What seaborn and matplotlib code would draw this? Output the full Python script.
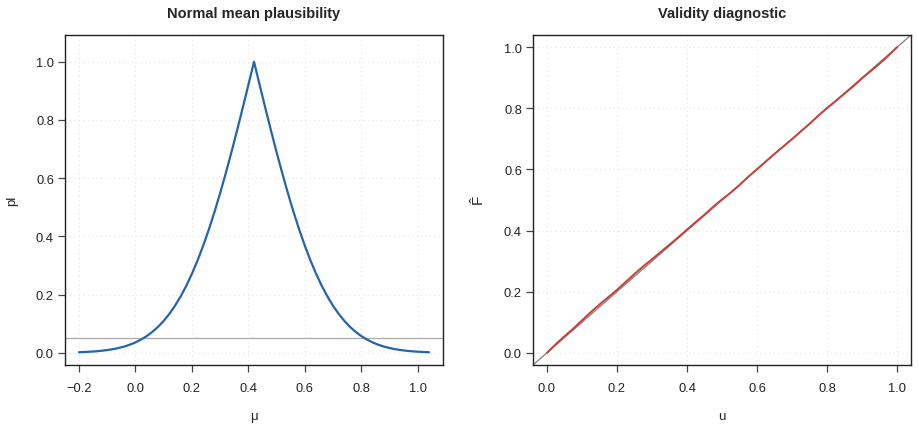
import matplotlib
matplotlib.use("Agg")
import matplotlib.pyplot as plt
import seaborn as sns
import pandas as pd

# Left panel: plausibility contour for the normal mean
mu_vals = [-0.20, -0.18, -0.16, -0.14, -0.12, -0.10, -0.08, -0.06, -0.04, -0.02,
           0.00, 0.02, 0.04, 0.06, 0.08, 0.10, 0.12, 0.14, 0.16, 0.18,
           0.20, 0.22, 0.24, 0.26, 0.28, 0.30, 0.32, 0.34, 0.36, 0.38,
           0.40, 0.42, 0.44, 0.46, 0.48, 0.50, 0.52, 0.54, 0.56, 0.58,
           0.60, 0.62, 0.64, 0.66, 0.68, 0.70, 0.72, 0.74, 0.76, 0.78,
           0.80, 0.82, 0.84, 0.86, 0.88, 0.90, 0.92, 0.94, 0.96, 0.98,
           1.00, 1.02, 1.04]
pl_vals = [0.0019, 0.0027, 0.0037, 0.0051, 0.0069, 0.0093, 0.0124, 0.0164, 0.0214, 0.0278,
           0.0357, 0.0455, 0.0574, 0.0719, 0.0891, 0.1096, 0.1336, 0.1615, 0.1936, 0.2301,
           0.2713, 0.3173, 0.3681, 0.4237, 0.4839, 0.5485, 0.6171, 0.6892, 0.7642, 0.8415,
           0.9203, 1.0000, 0.9203, 0.8415, 0.7642, 0.6892, 0.6171, 0.5485, 0.4839, 0.4237,
           0.3681, 0.3173, 0.2713, 0.2301, 0.1936, 0.1615, 0.1336, 0.1096, 0.0891, 0.0719,
           0.0574, 0.0455, 0.0357, 0.0278, 0.0214, 0.0164, 0.0124, 0.0093, 0.0069, 0.0051,
           0.0037, 0.0027, 0.0019]
alpha_level = 0.05

# Right panel: empirical distribution of plausibility values
u_vals = [0.000, 0.025, 0.050, 0.075, 0.100, 0.125, 0.150, 0.175, 0.200, 0.225,
          0.250, 0.275, 0.300, 0.325, 0.350, 0.375, 0.400, 0.425, 0.450, 0.475,
          0.500, 0.525, 0.550, 0.575, 0.600, 0.625, 0.650, 0.675, 0.700, 0.725,
          0.750, 0.775, 0.800, 0.825, 0.850, 0.875, 0.900, 0.925, 0.950, 0.975,
          1.000]
F_vals = [0.000, 0.028, 0.054, 0.079, 0.106, 0.133, 0.158, 0.182, 0.206, 0.232,
          0.258, 0.283, 0.306, 0.330, 0.354, 0.378, 0.403, 0.428, 0.452, 0.478,
          0.502, 0.524, 0.549, 0.576, 0.601, 0.626, 0.651, 0.675, 0.699, 0.724,
          0.749, 0.776, 0.801, 0.824, 0.848, 0.872, 0.898, 0.922, 0.946, 0.972,
          1.000]
ticks = [0.0, 0.2, 0.4, 0.6, 0.8, 1.0]
mu_ticks = [-0.2, 0.0, 0.2, 0.4, 0.6, 0.8, 1.0]

sns.set_style("white")
plt.rcParams["font.family"] = ["Liberation Sans", "DejaVu Sans"]
plt.rcParams["mathtext.fontset"] = "custom"
plt.rcParams["mathtext.rm"] = "Liberation Sans"
plt.rcParams["mathtext.it"] = "Liberation Sans"

fig = plt.figure(figsize=(9.18, 4.31), dpi=100)
ax1 = fig.add_axes([0.0708, 0.1508, 0.4118, 0.7657])
ax2 = fig.add_axes([0.5806, 0.1508, 0.4118, 0.7657])

df_pl = pd.DataFrame({"mu": mu_vals, "pl": pl_vals})
df_F = pd.DataFrame({"u": u_vals, "F": F_vals})


def style_axes(ax, xt, yt):
    ax.set_xticks(xt)
    ax.set_yticks(yt)
    ax.set_xticklabels([f"{t:.1f}".replace("-", "\u2212") for t in xt])
    ax.set_yticklabels([f"{t:.1f}" for t in yt])
    for t in xt:
        ax.axvline(t, color="#e4e4e4", lw=0.8, ls=(0, (1, 3)), zorder=0)
    for t in yt:
        ax.axhline(t, color="#e4e4e4", lw=0.8, ls=(0, (1, 3)), zorder=0)
    for s in ax.spines.values():
        s.set_color("#222222")
        s.set_linewidth(1.0)
    ax.tick_params(axis="both", direction="out", length=5, width=0.9,
                   color="#444444", labelsize=9.3, labelcolor="#222222",
                   left=True, bottom=True)
    ax.tick_params(axis="x", pad=7)
    ax.tick_params(axis="y", pad=3)


# left panel
sns.lineplot(data=df_pl, x="mu", y="pl", ax=ax1, color="#2464ad", lw=1.6,
             zorder=3)
ax1.axhline(alpha_level, color="#aaaaaa", lw=0.9, zorder=2)
ax1.set_xlim(-0.2496, 1.0896)
ax1.set_ylim(-0.042, 1.092)
style_axes(ax1, mu_ticks, ticks)
ax1.set_title("Normal mean plausibility", fontsize=10.5, fontweight="bold",
              pad=13)
ax1.set_xlabel("\u03bc", fontsize=9.5, labelpad=12)
ax1.set_ylabel("pl", fontsize=9.5, labelpad=13)

# right panel
ax2.set_xlim(-0.04, 1.04)
ax2.set_ylim(-0.04, 1.04)
ax2.plot([-0.04, 1.04], [-0.04, 1.04], color="#888888", lw=1.0, zorder=2)
sns.lineplot(data=df_F, x="u", y="F", ax=ax2, color="#c9403a", lw=1.4,
             zorder=3)
style_axes(ax2, ticks, ticks)
ax2.set_title("Validity diagnostic", fontsize=10.5, fontweight="bold", pad=13)
ax2.set_xlabel("u", fontsize=9.5, labelpad=12)
ax2.set_ylabel(r"$\hat{F}$", fontsize=11, labelpad=12)

fig.savefig("out.png", dpi=100)
